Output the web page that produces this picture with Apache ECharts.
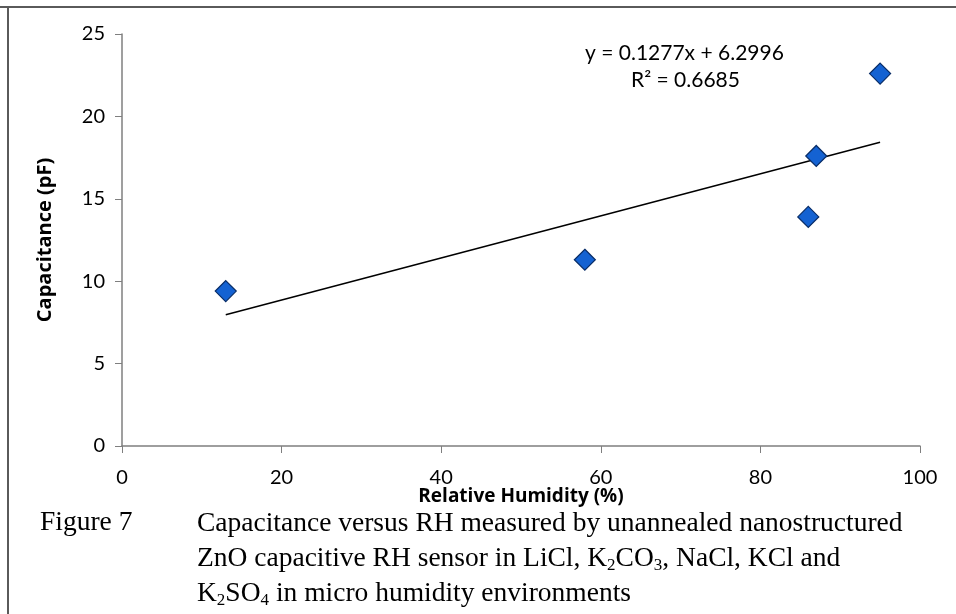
<!DOCTYPE html>
<html>
<head>
<meta charset="utf-8">
<script src="https://cdn.jsdelivr.net/npm/echarts@6/dist/echarts.min.js"></script>
<style>
  html, body { margin: 0; padding: 0; background: #fff; }
  #main { width: 956px; height: 614px; }
</style>
</head>
<body>
<div id="main"></div>
<script>
// measured points (RH %, capacitance pF)
var rhValues = [13, 58, 86, 87, 95];
var capValues = [9.4, 11.3, 13.9, 17.6, 22.6];
// linear trend line end points
var trendX = [13, 95];
var trendY = [7.96, 18.43];
var equationLines = ['y = 0.1277x + 6.2996', 'R\u00b2 = 0.6685'];

var chart = echarts.init(document.getElementById('main'));

var pts = rhValues.map(function (x, i) { return [x, capValues[i]]; });
var trend = trendX.map(function (x, i) { return [x, trendY[i]]; });

var axisCol = '#7f7f7f';
var numFont = 'Lato';

var option = {
    animation: false,
    backgroundColor: '#fff',
    grid: { left: 122, right: 36, top: 34, bottom: 168 },
    xAxis: {
        type: 'value', min: 0, max: 100, interval: 20,
        name: 'Relative Humidity (%)', nameLocation: 'middle', nameGap: 41,
        nameMoveOverlap: false,
        nameTextStyle: { fontFamily: 'Open Sans', fontWeight: 'bold', fontSize: 19, color: '#000' },
        axisLine: { lineStyle: { color: axisCol, width: 1.5 } },
        axisTick: { show: true, length: 7, lineStyle: { color: axisCol } },
        axisLabel: { fontFamily: numFont, fontSize: 20, color: '#000', margin: 22 },
        splitLine: { show: false }
    },
    yAxis: {
        type: 'value', min: 0, max: 25, interval: 5,
        name: 'Capacitance (pF)', nameLocation: 'middle', nameGap: 67, nameRotate: 90,
        nameMoveOverlap: false,
        nameTextStyle: { fontFamily: 'Open Sans', fontWeight: 'bold', fontSize: 20, color: '#000' },
        axisLine: { show: true, lineStyle: { color: axisCol, width: 1.5 } },
        axisTick: { show: true, length: 7, lineStyle: { color: axisCol } },
        axisLabel: { fontFamily: numFont, fontSize: 20, color: '#000', margin: 17 },
        splitLine: { show: false }
    },
    series: [
        {
            type: 'line', data: trend, symbol: 'none',
            lineStyle: { color: '#000', width: 1.5 }, z: 2
        },
        {
            type: 'scatter', data: pts, symbol: 'diamond', symbolSize: [21, 21],
            itemStyle: {
                color: '#1462d2', opacity: 1,
                borderColor: '#082c66', borderWidth: 1.2
            },
            z: 3
        }
    ],
    graphic: [
        { type: 'line', shape: { x1: 0, y1: 7, x2: 956, y2: 7 }, style: { stroke: '#5a5a5a', lineWidth: 2 } },
        { type: 'line', shape: { x1: 8, y1: 7, x2: 8, y2: 614 }, style: { stroke: '#5a5a5a', lineWidth: 2 } },
        {
            type: 'text', left: 585, top: 43,
            style: { text: equationLines[0], font: '21px Lato', fill: '#000' }
        },
        {
            type: 'text', left: 631, top: 70,
            style: { text: equationLines[1], font: '21px Lato', fill: '#000' }
        },
        {
            type: 'text', left: 40, top: 509,
            style: { text: 'Figure 7', font: '27.5px "Liberation Serif"', fill: '#000' }
        },
        {
            type: 'text', left: 197, top: 506,
            style: {
                text: 'Capacitance versus RH measured by unannealed nanostructured\n' +
                      'ZnO capacitive RH sensor in LiCl, K{s|2}CO{s|3}, NaCl, KCl and\n' +
                      'K{s|2}SO{s|4} in micro humidity environments',
                font: '27.5px "Liberation Serif"', fill: '#000', lineHeight: 35,
                rich: {
                    s: { fontSize: 17, fontFamily: 'Liberation Serif', padding: [14, 0, 0, 0], lineHeight: 35 }
                }
            }
        }
    ]
};

chart.setOption(option);
</script>
</body>
</html>
